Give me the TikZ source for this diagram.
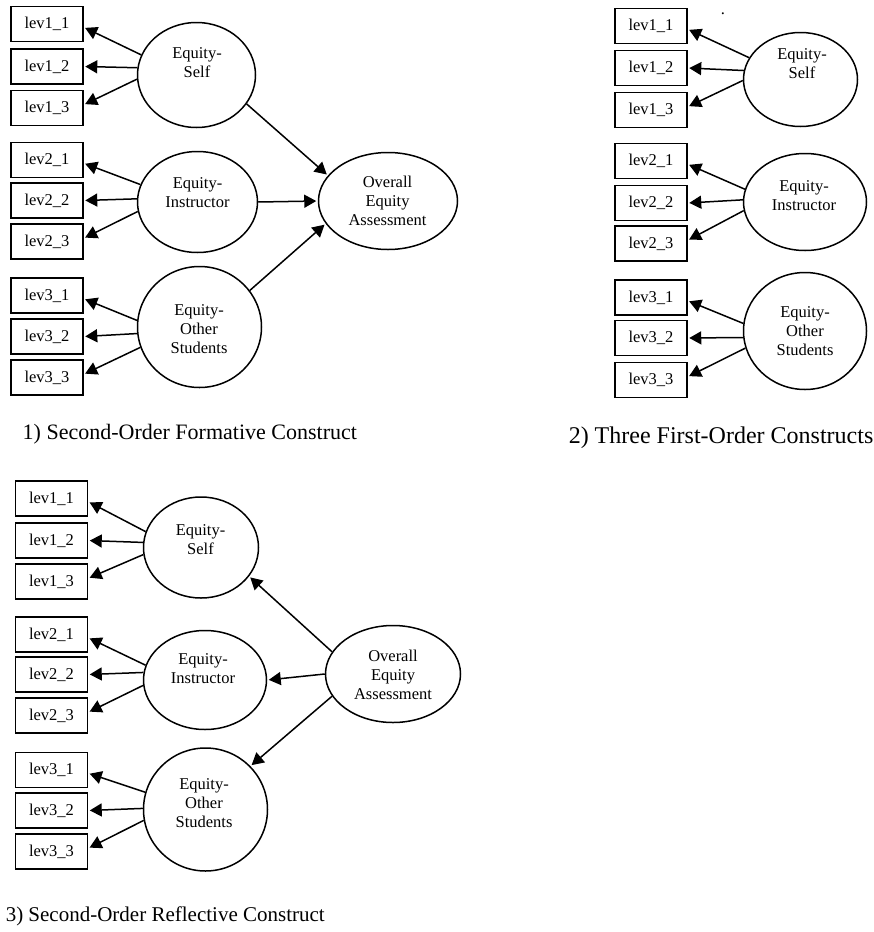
\documentclass[tikz,border=0pt]{standalone}
\usepackage{fontspec}
\setmainfont{Liberation Serif}
\usetikzlibrary{shapes.geometric,arrows.meta}

\begin{document}
\begin{tikzpicture}[x=1pt, y=-1pt, line width=1.5pt,
    ind/.style={draw, rectangle, minimum width=72pt, minimum height=35pt, inner sep=0pt, font=\fontsize{16.5}{19}\selectfont},
    lat/.style={draw, ellipse, inner sep=0pt},
    lbl/.style={font=\fontsize{16.5}{19}\selectfont, align=center, inner sep=0pt},
    captxt/.style={font=\fontsize{22}{24}\selectfont, anchor=base west, inner sep=0pt},
    arr/.style={-{Triangle[length=12pt,width=13pt]}, shorten >=1.5pt}]
    \useasboundingbox (0,0) rectangle (874,932);

    % Panel 1: second-order formative
    \node[ind] (S1a) at (47,24) {lev1\_1};
    \node[ind] (S1b) at (47,66.5) {lev1\_2};
    \node[ind] (S1c) at (47,108) {lev1\_3};
    \node[ind] (I1a) at (47,160) {lev2\_1};
    \node[ind] (I1b) at (47,200.5) {lev2\_2};
    \node[ind] (I1c) at (47,241.5) {lev2\_3};
    \node[ind] (T1a) at (47,295.5) {lev3\_1};
    \node[ind] (T1b) at (47,336.5) {lev3\_2};
    \node[ind] (T1c) at (47,377.5) {lev3\_3};

    \node[lat, minimum width=118pt, minimum height=105pt] (S1) at (196.5,75) {};
    \node[lat, minimum width=120pt, minimum height=101pt] (I1) at (197.5,202) {};
    \node[lat, minimum width=124pt, minimum height=121pt] (T1) at (199.5,327) {};
    \node[lat, minimum width=139pt, minimum height=97pt] (O1) at (388,201) {};
    \node[lbl] (S1t) at (197,63) {Equity-\\Self};
    \node[lbl] (I1t) at (197.5,193) {Equity-\\Instructor};
    \node[lbl] (T1t) at (199,329) {Equity-\\Other\\Students};
    \node[lbl] (O1t) at (387.5,201) {Overall\\Equity\\Assessment};

    \draw[arr] (S1.160) -- (S1a.-5);
    \draw[arr] (S1.173) -- (S1b.east);
    \draw[arr] (S1.184) -- (S1c.5);
    \draw[arr] (I1.163) -- (I1a.-5);
    \draw[arr] (I1.177) -- (I1b.east);
    \draw[arr] (I1.189) -- (I1c.5);
    \draw[arr] (T1.174) -- (T1a.-5);
    \draw[arr] (T1.186) -- (T1b.east);
    \draw[arr] (T1.199) -- (T1c.5);
    \draw[arr] (S1.-30) -- (O1.157);
    \draw[arr] (I1.east) -- (O1.west);
    \draw[arr] (T1.36) -- (O1.200);

    \node[captxt] (C1) at (22,439) {1) Second-Order Formative Construct};

    % Panel 2: three first-order
    \node[font=\fontsize{16.5}{19}\selectfont, inner sep=0pt, anchor=base] (dot) at (723,14) {.};
    \node[ind] (S2a) at (651,26) {lev1\_1};
    \node[ind] (S2b) at (651,68) {lev1\_2};
    \node[ind] (S2c) at (651,110) {lev1\_3};
    \node[ind] (I2a) at (651,161) {lev2\_1};
    \node[ind] (I2b) at (651,203) {lev2\_2};
    \node[ind] (I2c) at (651,243.5) {lev2\_3};
    \node[ind] (T2a) at (651,297.5) {lev3\_1};
    \node[ind] (T2b) at (651,338) {lev3\_2};
    \node[ind] (T2c) at (651,380) {lev3\_3};

    \node[lat, minimum width=114pt, minimum height=94pt] (S2) at (800.5,79.5) {};
    \node[lat, minimum width=123pt, minimum height=97pt] (I2) at (805,202) {};
    \node[lat, minimum width=123pt, minimum height=117pt] (T2) at (805,331) {};
    \node[lbl] (S2t) at (802,64) {Equity-\\Self};
    \node[lbl] (I2t) at (804,196) {Equity-\\Instructor};
    \node[lbl] (T2t) at (805,331) {Equity-\\Other\\Students};

    \draw[arr] (S2.157) -- (S2a.-5);
    \draw[arr] (S2.171) -- (S2b.east);
    \draw[arr] (S2.181) -- (S2c.5);
    \draw[arr] (I2.168) -- (I2a.-5);
    \draw[arr] (I2.178) -- (I2b.east);
    \draw[arr] (I2.188) -- (I2c.5);
    \draw[arr] (T2.173) -- (T2a.-5);
    \draw[arr] (T2.186) -- (T2b.east);
    \draw[arr] (T2.196) -- (T2c.5);

    \node[captxt, font=\fontsize{24}{26}\selectfont] (C2) at (568,443) {2) Three First-Order Constructs};

    % Panel 3: second-order reflective
    \node[ind] (S3a) at (51.5,498.5) {lev1\_1};
    \node[ind] (S3b) at (51.5,540.5) {lev1\_2};
    \node[ind] (S3c) at (51.5,581.5) {lev1\_3};
    \node[ind] (I3a) at (51.5,634.5) {lev2\_1};
    \node[ind] (I3b) at (51.5,674.5) {lev2\_2};
    \node[ind] (I3c) at (51.5,715.5) {lev2\_3};
    \node[ind] (T3a) at (51.5,770) {lev3\_1};
    \node[ind] (T3b) at (51.5,810.5) {lev3\_2};
    \node[ind] (T3c) at (51.5,851.5) {lev3\_3};

    \node[lat, minimum width=115pt, minimum height=101pt] (S3) at (201,547.5) {};
    \node[lat, minimum width=123pt, minimum height=99pt] (I3) at (205,680) {};
    \node[lat, minimum width=124pt, minimum height=123pt] (T3) at (205.5,809.5) {};
    \node[lat, minimum width=135pt, minimum height=97pt] (O3) at (393,674) {};
    \node[lbl] (S3t) at (200.5,540) {Equity-\\Self};
    \node[lbl] (I3t) at (203,669) {Equity-\\Instructor};
    \node[lbl] (T3t) at (204,803) {Equity-\\Other\\Students};
    \node[lbl] (O3t) at (393,675) {Overall\\Equity\\Assessment};

    \draw[arr] (S3.164) -- (S3a.-5);
    \draw[arr] (S3.175) -- (S3b.east);
    \draw[arr] (S3.187) -- (S3c.5);
    \draw[arr] (I3.166) -- (I3a.-5);
    \draw[arr] (I3.173) -- (I3b.east);
    \draw[arr] (I3.185) -- (I3c.5);
    \draw[arr] (T3.164) -- (T3a.-5);
    \draw[arr] (T3.179) -- (T3b.east);
    \draw[arr] (T3.190) -- (T3c.5);
    \draw[arr] (O3.160) -- (S3.-31);
    \draw[arr] (O3.west) -- (I3.east);
    \draw[arr] (O3.200) -- (T3.44);

    \node[captxt, font=\fontsize{21}{24}\selectfont] (C3) at (5,921) {3) Second-Order Reflective Construct};
\end{tikzpicture}
\end{document}
